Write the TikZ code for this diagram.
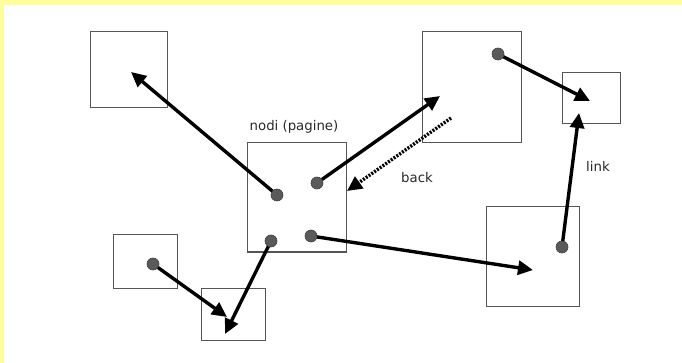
\documentclass[tikz,border=0pt]{standalone}
\usepackage{fontspec}
\setmainfont{DejaVu Sans}
\usetikzlibrary{arrows.meta}
\definecolor{bgyellow}{RGB}{255,255,153}
\definecolor{boxgray}{RGB}{85,85,85}
\definecolor{dotgray}{RGB}{90,90,90}
\definecolor{txtgray}{RGB}{40,40,40}
\tikzset{
  pbox/.style={draw=boxgray, line width=1pt, inner sep=0pt, outer sep=0pt},
  pdot/.style={circle, draw=black!75, line width=0.6pt, fill=dotgray, minimum size=12pt, inner sep=0pt},
  arr/.style={line width=3.4pt, -{Triangle[length=15pt,width=14pt]}},
  backarr/.style={line width=3.4pt, dash pattern=on 2pt off 1.4pt, -{Triangle[length=15pt,width=14pt]}},
  lbl/.style={font=\fontsize{13.3}{15}\selectfont, text=txtgray, inner sep=0pt}
}
\begin{document}
\begin{tikzpicture}[x=1pt,y=-1pt]
\useasboundingbox (0,0) rectangle (682,363);
\fill[white] (0,0) rectangle (682,363);
\fill[bgyellow] (0,0) rectangle (682,5);
\fill[bgyellow] (0,0) rectangle (4,363);
% boxes
\node[pbox, minimum width=77pt, minimum height=76pt] (A) at (128.5,70) {};
\node[pbox, minimum width=99pt, minimum height=111pt] (B) at (471.5,87.5) {};
\node[pbox, minimum width=99pt, minimum height=109pt] (M) at (296.5,197.5) {};
\node[pbox, minimum width=58pt, minimum height=51pt] (C) at (591,98.5) {};
\node[pbox, minimum width=93pt, minimum height=99pt] (D) at (532.5,256.5) {};
\node[pbox, minimum width=64pt, minimum height=53pt] (E) at (145,261.5) {};
\node[pbox, minimum width=64pt, minimum height=52pt] (F) at (233,314) {};
% labels
\node[lbl] (lnodi) at (294,127) {nodi (pagine)};
\node[lbl] (lback) at (417,178) {back};
\node[lbl] (llink) at (598,166) {link};
% arrow tips and free ends
\coordinate (tA) at (131,72);
\coordinate (tB) at (440,96);
\coordinate (sBack) at (451,118);
\coordinate (tBack) at (347,191);
\coordinate (tF1) at (225,334);
\coordinate (tD) at (533,270);
\coordinate (tC1) at (590,101);
\coordinate (tC2) at (579,113);
\coordinate (tF2) at (227,317);
% dot positions
\coordinate (p1) at (277,195);
\coordinate (p2) at (317,183);
\coordinate (p3) at (271,241);
\coordinate (p4) at (311,236);
\coordinate (pb) at (498,54);
\coordinate (pd) at (562,247);
\coordinate (pe) at (153,264);
% connectors
\draw[arr] (p1) -- (tA);
\draw[arr] (p2) -- (tB);
\draw[backarr] (sBack) -- (tBack);
\draw[arr] (p3) -- (tF1);
\draw[arr] (p4) -- (tD);
\draw[arr] (pb) -- (tC1);
\draw[arr] (pd) -- (tC2);
\draw[arr] (pe) -- (tF2);
% dots
\node[pdot] (d1) at (p1) {};
\node[pdot] (d2) at (p2) {};
\node[pdot] (d3) at (p3) {};
\node[pdot] (d4) at (p4) {};
\node[pdot] (db) at (pb) {};
\node[pdot] (dd) at (pd) {};
\node[pdot] (de) at (pe) {};
\end{tikzpicture}
\end{document}
